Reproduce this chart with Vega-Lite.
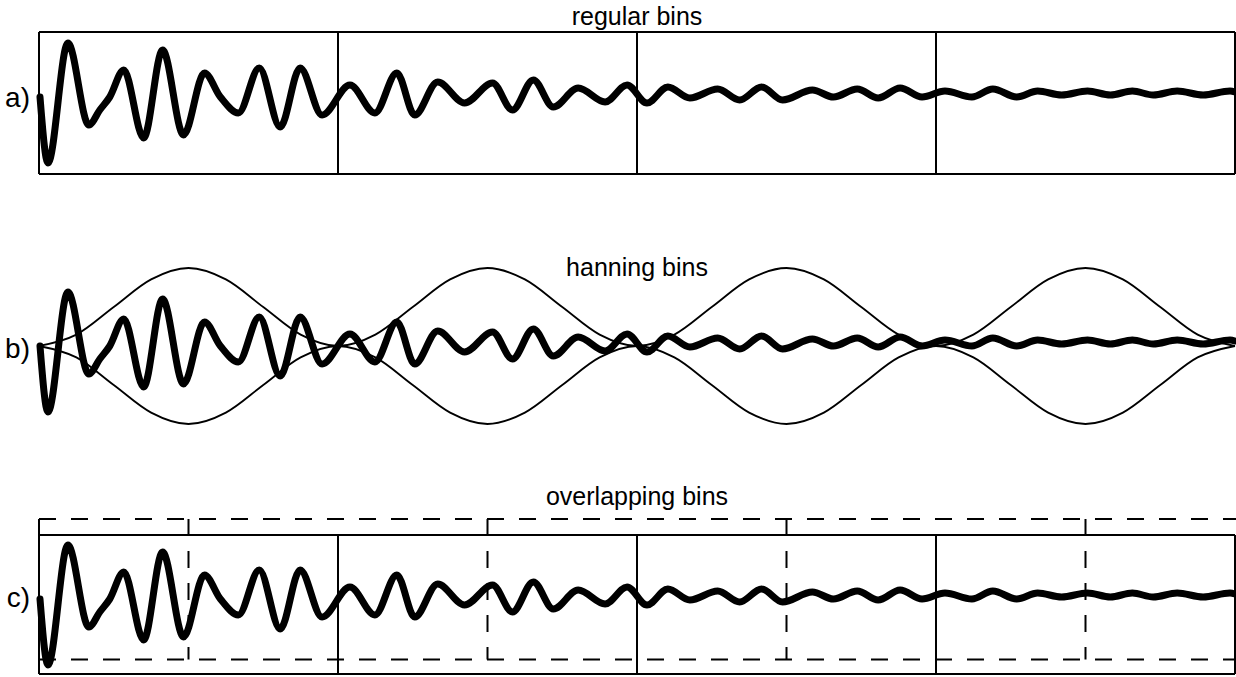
{
  "$schema": "https://vega.github.io/schema/vega-lite/v6.json",
  "description": "A damped test signal cut into time bins three ways: regular bins, hanning-windowed bins and half-bin overlapping bins.",
  "background": "white",
  "padding": 0,
  "spacing": 0,
  "bounds": "flush",
  "resolve": {"scale": {"x": "shared", "y": "independent"}},
  "config": {
    "axis": {"disable": true},
    "view": {"stroke": null},
    "text": {"font": "Liberation Sans", "color": "black"},
    "line": {"color": "black"},
    "rule": {"color": "black"}
  },
  "datasets": {
    "signal": [
      {"t": 1, "v": 0}, {"t": 9, "v": -66}, {"t": 29, "v": 54}, {"t": 50, "v": -28},
      {"t": 61, "v": -13}, {"t": 71, "v": 0}, {"t": 85, "v": 27}, {"t": 105, "v": -41},
      {"t": 124, "v": 47}, {"t": 145, "v": -38}, {"t": 166, "v": 24}, {"t": 182, "v": 0},
      {"t": 200, "v": -16}, {"t": 221, "v": 29}, {"t": 242, "v": -30}, {"t": 262, "v": 29},
      {"t": 284, "v": -18}, {"t": 312, "v": 12}, {"t": 337, "v": -16}, {"t": 359, "v": 24},
      {"t": 377, "v": -18}, {"t": 400, "v": 15}, {"t": 427, "v": -6}, {"t": 455, "v": 14},
      {"t": 475, "v": -13}, {"t": 496, "v": 17}, {"t": 516, "v": -10}, {"t": 541, "v": 9},
      {"t": 568, "v": -5}, {"t": 590, "v": 12}, {"t": 610, "v": -6}, {"t": 631, "v": 10},
      {"t": 653, "v": -1}, {"t": 681, "v": 8}, {"t": 703, "v": -3}, {"t": 725, "v": 10},
      {"t": 746, "v": -3}, {"t": 776, "v": 7}, {"t": 797, "v": 0}, {"t": 821, "v": 8},
      {"t": 842, "v": -1}, {"t": 864, "v": 9}, {"t": 886, "v": 0}, {"t": 909, "v": 6},
      {"t": 936, "v": 0}, {"t": 957, "v": 8}, {"t": 981, "v": 0}, {"t": 1002, "v": 6},
      {"t": 1026, "v": 2}, {"t": 1052, "v": 6}, {"t": 1075, "v": 2}, {"t": 1097, "v": 6},
      {"t": 1118, "v": 2}, {"t": 1142, "v": 6}, {"t": 1168, "v": 2}, {"t": 1195, "v": 6},
      {"t": 1200, "v": 5}
    ],
    "hanning": [
      {"t": 0, "hi": 0, "lo": 0}, {"t": 37.5, "hi": 11.4, "lo": -11.4}, {"t": 75, "hi": 39, "lo": -39},
      {"t": 112.5, "hi": 66.6, "lo": -66.6}, {"t": 150, "hi": 78, "lo": -78}, {"t": 187.5, "hi": 66.6, "lo": -66.6},
      {"t": 225, "hi": 39, "lo": -39}, {"t": 262.5, "hi": 11.4, "lo": -11.4}, {"t": 300, "hi": 0, "lo": 0},
      {"t": 337.5, "hi": 11.4, "lo": -11.4}, {"t": 375, "hi": 39, "lo": -39}, {"t": 412.5, "hi": 66.6, "lo": -66.6},
      {"t": 450, "hi": 78, "lo": -78}, {"t": 487.5, "hi": 66.6, "lo": -66.6}, {"t": 525, "hi": 39, "lo": -39},
      {"t": 562.5, "hi": 11.4, "lo": -11.4}, {"t": 600, "hi": 0, "lo": 0},
      {"t": 637.5, "hi": 11.4, "lo": -11.4}, {"t": 675, "hi": 39, "lo": -39}, {"t": 712.5, "hi": 66.6, "lo": -66.6},
      {"t": 750, "hi": 78, "lo": -78}, {"t": 787.5, "hi": 66.6, "lo": -66.6}, {"t": 825, "hi": 39, "lo": -39},
      {"t": 862.5, "hi": 11.4, "lo": -11.4}, {"t": 900, "hi": 0, "lo": 0},
      {"t": 937.5, "hi": 11.4, "lo": -11.4}, {"t": 975, "hi": 39, "lo": -39}, {"t": 1012.5, "hi": 66.6, "lo": -66.6},
      {"t": 1050, "hi": 78, "lo": -78}, {"t": 1087.5, "hi": 66.6, "lo": -66.6}, {"t": 1125, "hi": 39, "lo": -39},
      {"t": 1162.5, "hi": 11.4, "lo": -11.4}, {"t": 1200, "hi": 0, "lo": 0}
    ],
    "binEdges": [{"t": 0}, {"t": 300}, {"t": 600}, {"t": 900}, {"t": 1200}],
    "shiftedEdges": [{"t": 0}, {"t": 150}, {"t": 450}, {"t": 750}, {"t": 1050}]
  },
  "vconcat": [
    {
      "width": 1236,
      "height": 200,
      "layer": [
        {
          "data": {"values": [{"edge": 65}, {"edge": -77}]},
          "mark": {"type": "rule", "strokeWidth": 2},
          "encoding": {
            "x": {"datum": 0, "type": "quantitative", "scale": {"domain": [-39.13, 1201], "nice": false, "zero": false}},
            "x2": {"datum": 1200},
            "y": {"field": "edge", "type": "quantitative", "scale": {"domain": [-103, 97], "nice": false, "zero": false}}
          }
        },
        {
          "data": {"name": "binEdges"},
          "mark": {"type": "rule", "strokeWidth": 2},
          "encoding": {
            "x": {"field": "t", "type": "quantitative"},
            "y": {"datum": 65, "type": "quantitative"},
            "y2": {"datum": -77}
          }
        },
        {
          "data": {"name": "signal"},
          "mark": {"type": "line", "interpolate": "monotone", "strokeWidth": 7, "strokeCap": "round", "strokeJoin": "round"},
          "encoding": {
            "x": {"field": "t", "type": "quantitative"},
            "y": {"field": "v", "type": "quantitative"}
          }
        },
        {
          "data": {"values": [{"t": 600, "v": 72, "label": "regular bins"}]},
          "mark": {"type": "text", "fontSize": 25, "align": "center", "baseline": "alphabetic"},
          "encoding": {
            "x": {"field": "t", "type": "quantitative"},
            "y": {"field": "v", "type": "quantitative"},
            "text": {"field": "label"}
          }
        },
        {
          "data": {"values": [{"t": -9, "v": -10, "label": "a)"}]},
          "mark": {"type": "text", "fontSize": 28, "align": "right", "baseline": "alphabetic"},
          "encoding": {
            "x": {"field": "t", "type": "quantitative"},
            "y": {"field": "v", "type": "quantitative"},
            "text": {"field": "label"}
          }
        }
      ]
    },
    {
      "width": 1236,
      "height": 280,
      "layer": [
        {
          "data": {"name": "hanning"},
          "mark": {"type": "line", "interpolate": "monotone", "strokeWidth": 1.8},
          "encoding": {
            "x": {"field": "t", "type": "quantitative"},
            "y": {"field": "hi", "type": "quantitative", "scale": {"domain": [-134, 146], "nice": false, "zero": false}}
          }
        },
        {
          "data": {"name": "hanning"},
          "mark": {"type": "line", "interpolate": "monotone", "strokeWidth": 1.8},
          "encoding": {
            "x": {"field": "t", "type": "quantitative"},
            "y": {"field": "lo", "type": "quantitative"}
          }
        },
        {
          "data": {"name": "signal"},
          "mark": {"type": "line", "interpolate": "monotone", "strokeWidth": 7, "strokeCap": "round", "strokeJoin": "round"},
          "encoding": {
            "x": {"field": "t", "type": "quantitative"},
            "y": {"field": "v", "type": "quantitative"}
          }
        },
        {
          "data": {"values": [{"t": 600, "v": 70, "label": "hanning bins"}]},
          "mark": {"type": "text", "fontSize": 25, "align": "center", "baseline": "alphabetic"},
          "encoding": {
            "x": {"field": "t", "type": "quantitative"},
            "y": {"field": "v", "type": "quantitative"},
            "text": {"field": "label"}
          }
        },
        {
          "data": {"values": [{"t": -9, "v": -12, "label": "b)"}]},
          "mark": {"type": "text", "fontSize": 28, "align": "right", "baseline": "alphabetic"},
          "encoding": {
            "x": {"field": "t", "type": "quantitative"},
            "y": {"field": "v", "type": "quantitative"},
            "text": {"field": "label"}
          }
        }
      ]
    },
    {
      "width": 1236,
      "height": 197,
      "layer": [
        {
          "data": {"values": [{"edge": 64}, {"edge": -75}]},
          "mark": {"type": "rule", "strokeWidth": 2},
          "encoding": {
            "x": {"datum": 0, "type": "quantitative"},
            "x2": {"datum": 1200},
            "y": {"field": "edge", "type": "quantitative", "scale": {"domain": [-78, 119], "nice": false, "zero": false}}
          }
        },
        {
          "data": {"name": "binEdges"},
          "mark": {"type": "rule", "strokeWidth": 2},
          "encoding": {
            "x": {"field": "t", "type": "quantitative"},
            "y": {"datum": 64, "type": "quantitative"},
            "y2": {"datum": -75}
          }
        },
        {
          "data": {"values": [{"edge": 80}, {"edge": -60.5}]},
          "mark": {"type": "rule", "strokeWidth": 2, "strokeDash": [17, 15]},
          "encoding": {
            "x": {"datum": 0, "type": "quantitative"},
            "x2": {"datum": 1201},
            "y": {"field": "edge", "type": "quantitative"}
          }
        },
        {
          "data": {"name": "shiftedEdges"},
          "mark": {"type": "rule", "strokeWidth": 2, "strokeDash": [17, 15]},
          "encoding": {
            "x": {"field": "t", "type": "quantitative"},
            "y": {"datum": 80, "type": "quantitative"},
            "y2": {"datum": -60.5}
          }
        },
        {
          "data": {"name": "signal"},
          "mark": {"type": "line", "interpolate": "monotone", "strokeWidth": 7, "strokeCap": "round", "strokeJoin": "round"},
          "encoding": {
            "x": {"field": "t", "type": "quantitative"},
            "y": {"field": "v", "type": "quantitative"}
          }
        },
        {
          "data": {"values": [{"t": 600, "v": 94, "label": "overlapping bins"}]},
          "mark": {"type": "text", "fontSize": 25, "align": "center", "baseline": "alphabetic"},
          "encoding": {
            "x": {"field": "t", "type": "quantitative"},
            "y": {"field": "v", "type": "quantitative"},
            "text": {"field": "label"}
          }
        },
        {
          "data": {"values": [{"t": -9, "v": -8, "label": "c)"}]},
          "mark": {"type": "text", "fontSize": 28, "align": "right", "baseline": "alphabetic"},
          "encoding": {
            "x": {"field": "t", "type": "quantitative"},
            "y": {"field": "v", "type": "quantitative"},
            "text": {"field": "label"}
          }
        }
      ]
    }
  ]
}
